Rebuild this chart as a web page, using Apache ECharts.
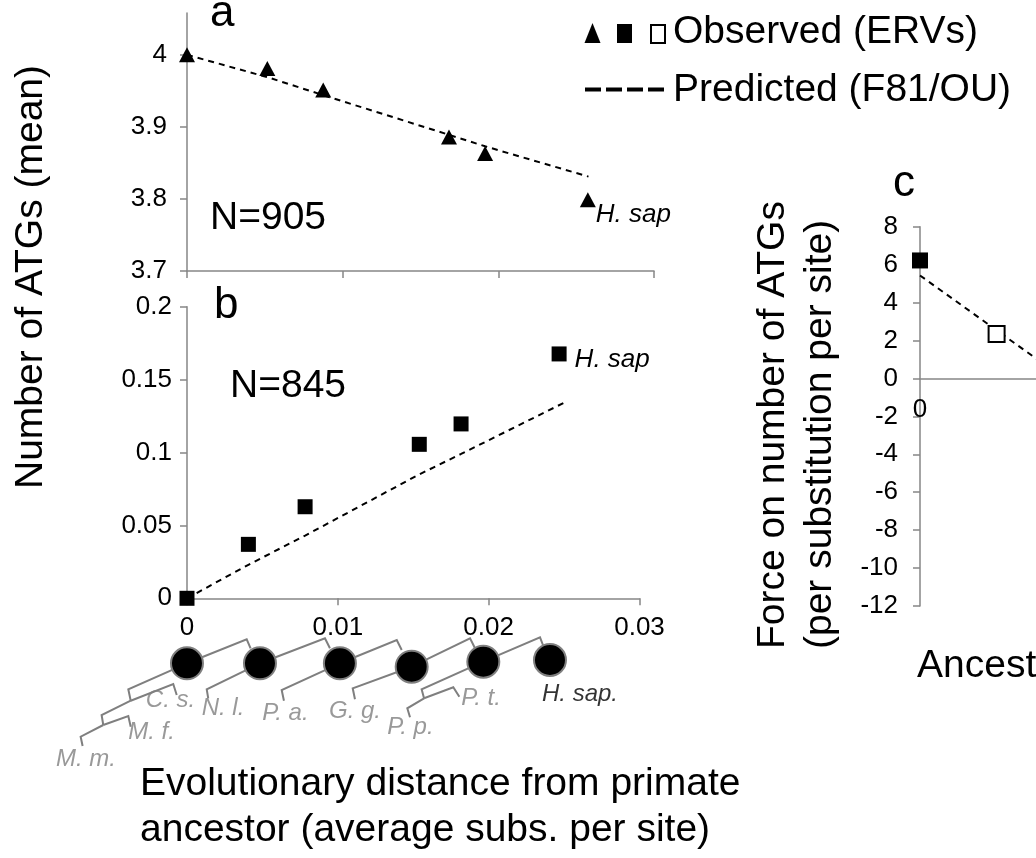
<!DOCTYPE html>
<html>
<head>
<meta charset="utf-8">
<script src="https://cdn.jsdelivr.net/npm/echarts@6/dist/echarts.min.js"></script>
<style>
  html, body { margin: 0; padding: 0; background: #fff; }
  #chart { width: 1036px; height: 858px; }
</style>
</head>
<body>
<div id="chart"></div>
<script>
// panel a: mean number of ATGs (triangles) and predicted curve
const distA = [0, 0.00516, 0.00875, 0.01683, 0.01915, 0.02575];
const atgA = [4.0, 3.981, 3.951, 3.886, 3.863, 3.799];
const predDistA = [0, 0.00516, 0.00875, 0.01683, 0.01915, 0.02579];
const predA = [4.0, 3.969, 3.944, 3.889, 3.873, 3.831];

// panel b: squares and predicted curve
const distB = [0, 0.00407, 0.00783, 0.0154, 0.01817, 0.02467];
const atgB = [0, 0.037, 0.0628, 0.1056, 0.1196, 0.1676];
const predDistB = [0, 0.00407, 0.00783, 0.0154, 0.01817, 0.02497];
const predB = [0, 0.023, 0.043, 0.085, 0.099, 0.134];

// panel c: force at ancestral nodes (filled, open) and predicted
const distC = [0, 0.0049];
const forceC = [6.22, 2.34];
const filledC = [true, false];
const predDistC = [0, 0.0049, 0.0098];
const predC = [5.43, 2.54, -0.35];

// tick labels
const ticksA = [3.7, 3.8, 3.9, 4];

// schematic tree below panel b (x: subs/site, y: rows down)
const treeNodes = [
  [0, 3.33], [0.00484, 3.33], [0.01014, 3.33],
  [0.0149, 3.67], [0.01965, 3.17], [0.02407, 3.0]
];
const treeEdges = [
  [[0, 3.33], [0.00396, 0.93], [0.00422, 1.83]],
  [[0.00484, 3.33], [0.00915, 0.83], [0.00948, 1.83]],
  [[0.01014, 3.33], [0.01391, 1.0], [0.01424, 2.0]],
  [[0.0149, 3.67], [0.01877, 0.83], [0.0191, 1.83]],
  [[0.01965, 3.17], [0.02341, 0.73], [0.02363, 1.6]],
  [[0, 3.33], [-0.00389, 5.93], [-0.00373, 7.07]],
  [[-0.00373, 7.07], [-0.00091, 5.4], [-0.00068, 6.5]],
  [[-0.00373, 7.07], [-0.00566, 8.5], [-0.00555, 9.5]],
  [[-0.00555, 9.5], [-0.00389, 8.6], [-0.00373, 9.67]],
  [[-0.00555, 9.5], [-0.00705, 10.67], [-0.00692, 11.6]],
  [[0.00484, 3.33], [0.00131, 5.93], [0.00141, 6.83]],
  [[0.01014, 3.33], [0.00628, 6.0], [0.00643, 7.07]],
  [[0.0149, 3.67], [0.01099, 5.83], [0.01114, 6.93]],
  [[0.01965, 3.17], [0.01556, 5.93], [0.01572, 6.83]],
  [[0.01572, 6.83], [0.01766, 5.73], [0.01806, 6.67]],
  [[0.01572, 6.83], [0.01461, 7.83], [0.01479, 8.73]]
];
const treeLabels = ['C. s.', 'M. f.', 'M. m.', 'N. l.', 'P. a.', 'G. g.', 'P. p.', 'P. t.', 'H. sap.'];
const treeLabelX = [-0.00109, -0.00235, -0.0067, 0.00239, 0.00653, 0.01114, 0.01482, 0.0195, 0.02606];
const treeLabelY = [7.0, 10.25, 12.9, 7.8, 8.35, 8.1, 9.75, 6.8, 6.4];

const FONT = 'Liberation Sans, Arial, sans-serif';
const AXIS_GRAY = '#868686';
const TREE_GRAY = '#7f7f7f';
const BIG = 39;

const chart = echarts.init(document.getElementById('chart'));

const zip = (xs, ys) => xs.map((x, i) => [x, ys[i]]);

const axisLine = { lineStyle: { color: AXIS_GRAY, width: 1.5 } };
const axisTick = { show: true, length: 7, lineStyle: { color: AXIS_GRAY, width: 1.5 } };
const tickLabel = (margin) => ({ color: '#000', fontSize: 26, fontFamily: FONT, margin: margin });

const txt = (text, x, y, size, opts) => Object.assign({
  type: 'text', x: x, y: y, silent: true,
  style: Object.assign({
    text: text, fill: '#000', fontSize: size, fontFamily: FONT,
    textAlign: 'left', textVerticalAlign: 'middle', align: 'left', verticalAlign: 'middle'
  }, (opts && opts.style) || {})
}, (opts && opts.el) || {});

const rot = { el: { rotation: Math.PI / 2 } };

chart.setOption({
  animation: false,
  backgroundColor: '#fff',
  grid: [
    { left: 187, right: 382, top: 13, bottom: 587, outerBoundsMode: 'none' },   // a
    { left: 187, right: 396.5, top: 306.7, bottom: 259.7, outerBoundsMode: 'none' }, // b
    { left: 920, width: 469, top: 226.7, bottom: 252, outerBoundsMode: 'none' }, // c
    { left: 6, right: 396.6, top: 630, bottom: 88, outerBoundsMode: 'none' }     // tree
  ],
  xAxis: [
    { gridIndex: 0, type: 'value', min: 0, max: 0.03, interval: 0.01,
      axisLine: axisLine, axisTick: axisTick, axisLabel: { show: false }, splitLine: { show: false } },
    { gridIndex: 1, type: 'value', min: 0, max: 0.03, interval: 0.01,
      axisLine: axisLine, axisTick: axisTick, axisLabel: tickLabel(17), splitLine: { show: false } },
    { gridIndex: 2, type: 'value', min: 0, max: 0.03, interval: 0.01,
      position: 'bottom', offset: -227,
      axisLine: Object.assign({ onZero: false }, axisLine), axisTick: { show: false },
      axisLabel: tickLabel(18), splitLine: { show: false } },
    { gridIndex: 3, type: 'value', min: -0.012, max: 0.03, show: false }
  ],
  yAxis: [
    { gridIndex: 0, type: 'value', min: 3.7, max: 4.058,
      axisLine: axisLine,
      axisTick: Object.assign({ customValues: ticksA }, axisTick),
      axisLabel: Object.assign({ customValues: ticksA }, tickLabel(20)),
      splitLine: { show: false } },
    { gridIndex: 1, type: 'value', min: 0, max: 0.2, interval: 0.05,
      axisLine: axisLine, axisTick: axisTick, axisLabel: tickLabel(15), splitLine: { show: false } },
    { gridIndex: 2, type: 'value', min: -12, max: 8, interval: 2,
      axisLine: axisLine, axisTick: axisTick, axisLabel: tickLabel(22), splitLine: { show: false } },
    { gridIndex: 3, type: 'value', min: 0, max: 14, inverse: true, show: false }
  ],
  series: [
    {
      name: 'Predicted a', type: 'line', xAxisIndex: 0, yAxisIndex: 0,
      data: zip(predDistA, predA), symbol: 'none',
      lineStyle: { color: '#000', width: 2, type: [6, 5] }, z: 2
    },
    {
      name: 'Observed a', type: 'scatter', xAxisIndex: 0, yAxisIndex: 0,
      data: zip(distA, atgA).map((p, i, arr) => i === arr.length - 1 ? {
        value: p,
        label: { show: true, formatter: 'H. sap', position: 'right', distance: 0, offset: [0, 15],
          color: '#000', fontSize: 26, fontStyle: 'italic', fontFamily: FONT }
      } : p),
      symbol: 'triangle', symbolSize: [16, 15], itemStyle: { color: '#000', opacity: 1 }, z: 3
    },
    {
      name: 'Predicted b', type: 'line', xAxisIndex: 1, yAxisIndex: 1,
      data: zip(predDistB, predB), symbol: 'none',
      lineStyle: { color: '#000', width: 2, type: [6, 5] }, z: 2
    },
    {
      name: 'Observed b', type: 'scatter', xAxisIndex: 1, yAxisIndex: 1,
      data: zip(distB, atgB).map((p, i, arr) => i === arr.length - 1 ? {
        value: p,
        label: { show: true, formatter: 'H. sap', position: 'right', distance: 8, offset: [0, 6],
          color: '#000', fontSize: 26, fontStyle: 'italic', fontFamily: FONT }
      } : p),
      symbol: 'rect', symbolSize: 15, itemStyle: { color: '#000', opacity: 1 }, z: 3
    },
    {
      name: 'Predicted c', type: 'line', xAxisIndex: 2, yAxisIndex: 2,
      data: zip(predDistC, predC), symbol: 'none',
      lineStyle: { color: '#000', width: 2, type: [6, 5] }, z: 2
    },
    {
      name: 'Observed c', type: 'scatter', xAxisIndex: 2, yAxisIndex: 2,
      data: zip(distC, forceC).map((p, i) => ({
        value: p,
        itemStyle: filledC[i]
          ? { color: '#000', opacity: 1 }
          : { color: '#fff', borderColor: '#000', borderWidth: 2, opacity: 1 }
      })),
      symbol: 'rect', symbolSize: 16, z: 3
    },
    {
      name: 'Tree', type: 'lines', coordinateSystem: 'cartesian2d', xAxisIndex: 3, yAxisIndex: 3,
      polyline: true, silent: true,
      data: treeEdges.map(c => ({ coords: c })),
      lineStyle: { color: TREE_GRAY, width: 2, opacity: 1 }, z: 2
    },
    {
      name: 'Nodes', type: 'scatter', xAxisIndex: 3, yAxisIndex: 3,
      data: treeNodes, symbol: 'circle', symbolSize: 32,
      itemStyle: { color: '#000', borderColor: TREE_GRAY, borderWidth: 2, opacity: 1 }, z: 3
    },
    {
      name: 'Species', type: 'scatter', xAxisIndex: 3, yAxisIndex: 3,
      data: treeLabels.map((n, i) => ({
        name: n, value: [treeLabelX[i], treeLabelY[i]],
        label: { color: n === 'H. sap.' ? '#000' : TREE_GRAY }
      })),
      symbolSize: 0, z: 4,
      label: {
        show: true, position: 'inside', formatter: '{b}',
        fontSize: 24, fontStyle: 'italic', fontFamily: FONT
      }
    }
  ],
  graphic: [
    // panel letters and counts
    txt('a', 210, 14, 44),
    txt('b', 214, 306, 44),
    txt('c', 893, 184, 44),
    txt('N=905', 210, 218, BIG),
    txt('N=845', 230, 386, BIG),
    // axis titles
    txt('Number of ATGs (mean)', 31, 277, BIG,
      { el: { rotation: Math.PI / 2 }, style: { textAlign: 'center', align: 'center' } }),
    txt('Evolutionary distance from primate', 140, 784, BIG),
    txt('ancestor (average subs. per site)', 140, 830, BIG),
    txt('Force on number of ATGs', 773, 649, BIG, rot),
    txt('(per substitution per site)', 820, 649, BIG, rot),
    txt('Ancestral node', 917, 666, BIG),
    // legend
    { type: 'polygon', silent: true, shape: { points: [[592.5, 23], [600.5, 43], [584.5, 43]] }, style: { fill: '#000' } },
    { type: 'rect', silent: true, shape: { x: 617, y: 24, width: 15, height: 19 }, style: { fill: '#000' } },
    { type: 'rect', silent: true, shape: { x: 651, y: 25, width: 14, height: 18 }, style: { fill: '#fff', stroke: '#000', lineWidth: 2 } },
    txt('Observed (ERVs)', 673, 32, BIG),
    { type: 'line', silent: true, shape: { x1: 585, y1: 89.5, x2: 665, y2: 89.5 },
      style: { stroke: '#000', lineWidth: 4, lineDash: [16, 5] } },
    txt('Predicted (F81/OU)', 673, 90, BIG)
  ]
});
</script>
</body>
</html>
